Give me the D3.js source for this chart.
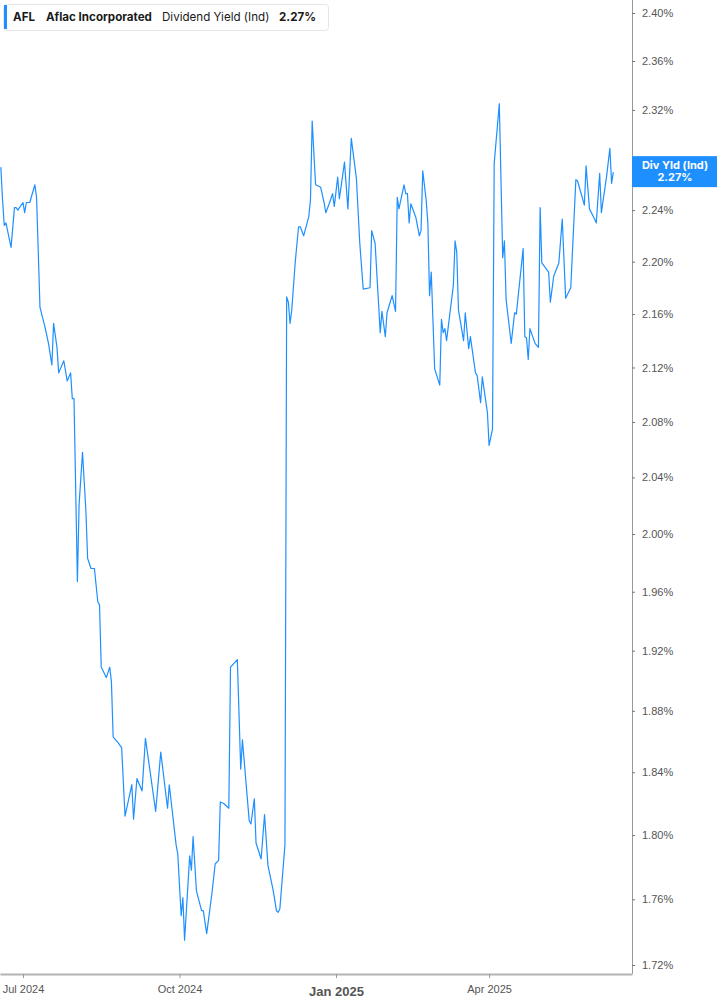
<!DOCTYPE html>
<html>
<head>
<meta charset="utf-8">
<script src="https://cdn.jsdelivr.net/npm/d3@7"></script>
<style>
  html, body { margin: 0; padding: 0; background: #fff; }
  svg { display: block; font-family: Inter, "Noto Sans", sans-serif; }
  .axis text { fill: #555; font-size: 11px; }
  .y-axis .domain { stroke: #999; stroke-width: 1; }
  .y-axis .tick line { stroke: #777; }
  .x-axis .domain { stroke: #b3b3b3; stroke-width: 2; }
  .x-axis .tick line { stroke: #999; }
</style>
</head>
<body>
<svg id="chart" width="717" height="1005"></svg>
<script>
// AFL dividend yield (indicated), Jun 2024 - Jun 2025.

const dates = [
  "2024-06-18", "2024-06-19", "2024-06-20", "2024-06-21", "2024-06-24", "2024-06-26", "2024-06-27", "2024-06-28",
  "2024-07-01", "2024-07-02", "2024-07-03", "2024-07-05", "2024-07-08", "2024-07-09", "2024-07-11", "2024-07-14",
  "2024-07-16", "2024-07-18", "2024-07-19", "2024-07-21", "2024-07-22", "2024-07-25", "2024-07-27", "2024-07-29",
  "2024-07-30", "2024-07-31", "2024-08-02", "2024-08-03", "2024-08-05", "2024-08-07", "2024-08-08", "2024-08-10",
  "2024-08-12", "2024-08-14", "2024-08-15", "2024-08-16", "2024-08-19", "2024-08-21", "2024-08-22", "2024-08-23",
  "2024-08-26", "2024-08-28", "2024-08-30", "2024-09-03", "2024-09-04", "2024-09-06", "2024-09-09", "2024-09-11",
  "2024-09-17", "2024-09-20", "2024-09-24", "2024-09-25", "2024-09-29", "2024-09-30", "2024-10-02", "2024-10-03",
  "2024-10-04", "2024-10-07", "2024-10-08", "2024-10-09", "2024-10-11", "2024-10-14", "2024-10-15", "2024-10-17",
  "2024-10-20", "2024-10-22", "2024-10-24", "2024-10-25", "2024-10-27", "2024-10-30", "2024-10-31", "2024-11-04",
  "2024-11-06", "2024-11-07", "2024-11-11", "2024-11-12", "2024-11-14", "2024-11-15", "2024-11-18", "2024-11-20",
  "2024-11-22", "2024-11-25", "2024-11-27", "2024-11-28", "2024-11-29", "2024-12-02", "2024-12-03", "2024-12-04",
  "2024-12-05", "2024-12-06", "2024-12-08", "2024-12-10", "2024-12-11", "2024-12-13", "2024-12-16", "2024-12-17",
  "2024-12-18", "2024-12-20", "2024-12-23", "2024-12-25", "2024-12-26", "2024-12-28", "2024-12-30", "2024-12-31",
  "2025-01-02", "2025-01-03", "2025-01-06", "2025-01-08", "2025-01-10", "2025-01-13", "2025-01-15", "2025-01-17",
  "2025-01-21", "2025-01-22", "2025-01-24", "2025-01-27", "2025-01-28", "2025-01-30", "2025-01-31", "2025-02-03",
  "2025-02-05", "2025-02-06", "2025-02-07", "2025-02-10", "2025-02-11", "2025-02-12", "2025-02-13", "2025-02-14",
  "2025-02-17", "2025-02-19", "2025-02-20", "2025-02-21", "2025-02-23", "2025-02-24", "2025-02-25", "2025-02-26",
  "2025-02-28", "2025-03-03", "2025-03-04", "2025-03-05", "2025-03-06", "2025-03-07", "2025-03-11", "2025-03-12",
  "2025-03-13", "2025-03-14", "2025-03-17", "2025-03-18", "2025-03-20", "2025-03-21", "2025-03-24", "2025-03-25",
  "2025-03-27", "2025-03-28", "2025-03-31", "2025-04-01", "2025-04-02", "2025-04-03", "2025-04-04", "2025-04-07",
  "2025-04-09", "2025-04-10", "2025-04-11", "2025-04-14", "2025-04-16", "2025-04-17", "2025-04-21", "2025-04-22",
  "2025-04-23", "2025-04-24", "2025-04-25", "2025-04-28", "2025-04-30", "2025-05-01", "2025-05-02", "2025-05-06",
  "2025-05-07", "2025-05-09", "2025-05-12", "2025-05-14", "2025-05-16", "2025-05-19", "2025-05-22", "2025-05-23",
  "2025-05-27", "2025-05-28", "2025-05-30", "2025-06-02", "2025-06-03", "2025-06-05", "2025-06-06", "2025-06-09",
  "2025-06-11", "2025-06-12", "2025-06-13"
];

// Dividend yield in percent, one per date above.
const yieldPct = [
  2.274, 2.248, 2.228, 2.230, 2.211, 2.242, 2.242, 2.240,
  2.246, 2.238, 2.246, 2.246, 2.260, 2.250, 2.165, 2.150,
  2.138, 2.122, 2.153, 2.135, 2.116, 2.125, 2.110, 2.116,
  2.097, 2.097, 1.967, 2.021, 2.058, 2.016, 1.983, 1.976,
  1.976, 1.953, 1.951, 1.909, 1.902, 1.909, 1.899, 1.863,
  1.859, 1.856, 1.812, 1.832, 1.810, 1.836, 1.828, 1.862,
  1.815, 1.853, 1.817, 1.832, 1.794, 1.788, 1.750, 1.761,
  1.735, 1.787, 1.778, 1.799, 1.765, 1.753, 1.753, 1.739,
  1.763, 1.782, 1.784, 1.821, 1.820, 1.817, 1.909, 1.914,
  1.842, 1.861, 1.809, 1.807, 1.823, 1.795, 1.785, 1.813,
  1.781, 1.766, 1.753, 1.752, 1.754, 1.794, 2.173, 2.169,
  2.153, 2.163, 2.199, 2.227, 2.227, 2.220, 2.235, 2.248,
  2.311, 2.260, 2.258, 2.246, 2.238, 2.245, 2.253, 2.243,
  2.266, 2.249, 2.278, 2.241, 2.297, 2.265, 2.214, 2.179,
  2.180, 2.224, 2.214, 2.146, 2.162, 2.143, 2.161, 2.174,
  2.162, 2.250, 2.241, 2.260, 2.253, 2.253, 2.230, 2.245,
  2.234, 2.220, 2.224, 2.271, 2.248, 2.230, 2.174, 2.192,
  2.119, 2.107, 2.156, 2.146, 2.149, 2.140, 2.182, 2.216,
  2.207, 2.163, 2.140, 2.161, 2.134, 2.143, 2.116, 2.114,
  2.094, 2.113, 2.087, 2.063, 2.069, 2.075, 2.277, 2.325,
  2.203, 2.216, 2.171, 2.138, 2.161, 2.160, 2.210, 2.143,
  2.142, 2.126, 2.149, 2.138, 2.135, 2.242, 2.199, 2.192,
  2.169, 2.189, 2.199, 2.233, 2.172, 2.180, 2.264, 2.263,
  2.244, 2.275, 2.241, 2.233, 2.230, 2.269, 2.238, 2.266,
  2.289, 2.261, 2.270
];

const xTickDates = ["2024-07-01", "2024-10-01", "2025-01-01", "2025-04-01"];
const xTickLabels = ["Jul 2024", "Oct 2024", "Jan 2025", "Apr 2025"];
const yTickValues = [1.72, 1.76, 1.80, 1.84, 1.88, 1.92, 1.96, 2.00, 2.04, 2.08,
                     2.12, 2.16, 2.20, 2.24, 2.28, 2.32, 2.36, 2.40];

const TICKER = "AFL";
const COMPANY = "Aflac Incorporated";
const METRIC = "Dividend Yield (Ind)";
const SHORT_METRIC = "Div Yld (Ind)";
const LAST_VALUE = "2.27%";

const BLUE = "#1e8fff";
const PLOT_RIGHT = 632;
const PLOT_BOTTOM = 974;
const TAG_TOP = -16;
const TAG_HEIGHT = 31;

const parse = d3.timeParse("%Y-%m-%d");
const data = dates.map((d, i) => ({ date: parse(d), value: yieldPct[i] }));
const last = data[data.length - 1];

const svg = d3.select("#chart");

// Time scale: Jul 1 sits at x=23, Apr 1 at x=489.
const x = d3.scaleTime()
  .domain([new Date(2024, 5, 17, 12), new Date(2025, 5, 24)])
  .range([0, PLOT_RIGHT]);

// The value axis is logarithmic.
const y = d3.scaleLog()
  .domain([1.72, 2.40])
  .range([965, 13]);

svg.append("defs").append("clipPath")
  .attr("id", "plot-clip")
  .append("rect")
  .attr("x", 0).attr("y", 0)
  .attr("width", PLOT_RIGHT).attr("height", PLOT_BOTTOM);

// Right value axis.
const yAxis = svg.append("g")
  .attr("class", "axis y-axis")
  .attr("transform", `translate(${PLOT_RIGHT},0)`)
  .call(d3.axisRight(y)
    .tickValues(yTickValues)
    .tickSize(3)
    .tickSizeOuter(0)
    .tickPadding(7)
    .tickFormat((d) => d.toFixed(2) + "%"))
  .call((g) => g.select(".domain").attr("d", `M0.5,0V${PLOT_BOTTOM}`));

// A tick label sitting under the last value tag is covered by it, so hide it.
const tagLo = y(last.value) + TAG_TOP - 4;
const tagHi = y(last.value) + TAG_TOP + TAG_HEIGHT + 4;
yAxis.selectAll(".tick text")
  .filter((d) => y(d) > tagLo && y(d) < tagHi)
  .attr("visibility", "hidden");

// Bottom date axis.
const xAxis = svg.append("g")
  .attr("class", "axis x-axis")
  .attr("transform", `translate(0,${PLOT_BOTTOM})`)
  .call(d3.axisBottom(x)
    .tickValues(xTickDates.map(parse))
    .tickSize(4)
    .tickSizeOuter(0)
    .tickPadding(7)
    .tickFormat((d, i) => xTickLabels[i]));

// The year boundary label is bold and a bit larger.
xAxis.selectAll(".tick text")
  .filter((d, i) => xTickLabels[i].startsWith("Jan"))
  .style("font-size", "13px")
  .style("font-weight", "700")
  .attr("y", 13);

// The yield line.
const line = d3.line()
  .x((d) => x(d.date))
  .y((d) => y(d.value));

svg.append("path")
  .datum(data)
  .attr("clip-path", "url(#plot-clip)")
  .attr("fill", "none")
  .attr("stroke", BLUE)
  .attr("stroke-width", 1.2)
  .attr("stroke-linejoin", "round")
  .attr("d", line);

// Last value tag on the right axis.
const tag = svg.append("g")
  .attr("transform", `translate(${PLOT_RIGHT},${y(last.value)})`);
tag.append("rect")
  .attr("x", 0).attr("y", TAG_TOP)
  .attr("width", 717 - PLOT_RIGHT).attr("height", TAG_HEIGHT)
  .attr("fill", BLUE);
tag.append("text")
  .attr("x", 43).attr("y", -3)
  .attr("text-anchor", "middle")
  .attr("fill", "#fff")
  .style("font-size", "11px")
  .style("font-weight", "700")
  .text(SHORT_METRIC);
tag.append("text")
  .attr("x", 43).attr("y", 9)
  .attr("text-anchor", "middle")
  .attr("fill", "#fff")
  .style("font-size", "11px")
  .style("font-weight", "700")
  .text(LAST_VALUE);

// Legend box top left.
const legend = svg.append("g");
legend.append("rect")
  .attr("x", 3.5).attr("y", 4.5)
  .attr("width", 325).attr("height", 26)
  .attr("rx", 3)
  .attr("fill", "#fff")
  .attr("stroke", "#e6e6e6");
legend.append("rect")
  .attr("x", 4).attr("y", 5)
  .attr("width", 3).attr("height", 24)
  .attr("fill", BLUE);

const legendItems = [
  { text: TICKER, x: 13, weight: 700 },
  { text: COMPANY, x: 46, weight: 700 },
  { text: METRIC, x: 162, weight: 400 },
  { text: LAST_VALUE, x: 279, weight: 700 },
];
legend.selectAll("text.item")
  .data(legendItems)
  .join("text")
  .attr("class", "item")
  .attr("x", (d) => d.x)
  .attr("y", 21)
  .attr("fill", "#1a1a1a")
  .style("font-size", "11.6px")
  .style("font-weight", (d) => d.weight)
  .text((d) => d.text);
</script>
</body>
</html>
